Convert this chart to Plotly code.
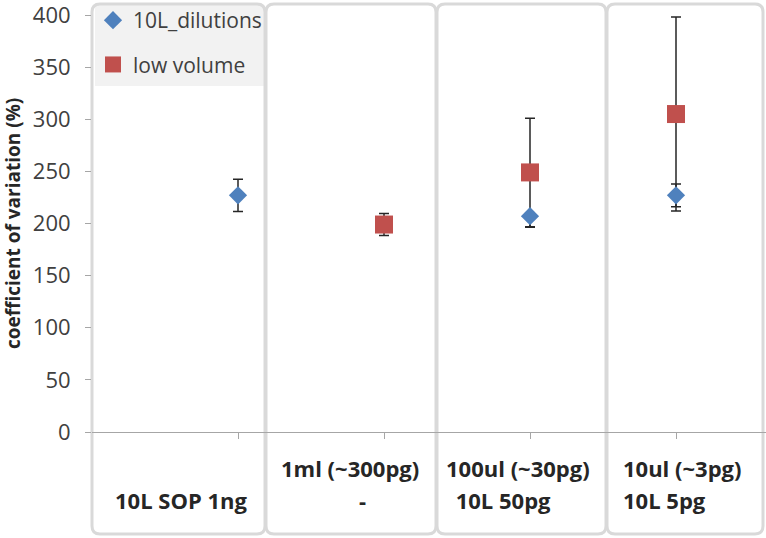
import plotly.graph_objects as go

# categories (x positions 0..3)
cat_pos = [0, 1, 2, 3]

# 10L_dilutions series
dil_x = [0, 2, 3]
dil_y = [227, 207, 227]
dil_err_plus = [15.5, 0, 11]
dil_err_minus = [15.5, 10.5, 11]

# low volume series
low_x = [1, 2, 3]
low_y = [199, 249, 305]
low_err = [10.5, 52, 93]

label_line1 = ["", "1ml (~300pg)", "100ul (~30pg)", "10ul (~3pg)"]
label_line2 = ["10L SOP 1ng", "-", " 10L 50pg", "10L 5pg"]

W, H = 766, 538
L, R, T, B = 92, 0, 15, 106
PW, PH = W - L - R, H - T - B


def px2x(p):
    return (p - L) / PW


def px2y(p):
    return (H - B - p) / PH


def rounded(x0, y0, x1, y1, r):
    X0, X1 = px2x(x0), px2x(x1)
    Y0, Y1 = px2y(y0), px2y(y1)
    rx, ry = r / PW, r / PH
    return (f"M {X0+rx},{Y0} L {X1-rx},{Y0} Q {X1},{Y0} {X1},{Y0-ry} "
            f"L {X1},{Y1+ry} Q {X1},{Y1} {X1-rx},{Y1} L {X0+rx},{Y1} "
            f"Q {X0},{Y1} {X0},{Y1+ry} L {X0},{Y0-ry} Q {X0},{Y0} {X0+rx},{Y0} Z")


fig = go.Figure()

fig.add_trace(go.Scatter(
    x=low_x, y=low_y, mode='markers', name='low volume', legendgroup='b', legendrank=2,
    marker=dict(symbol='square', size=18, color='#c0504d'),
    error_y=dict(type='data', array=low_err, color='#262626', thickness=1.5, width=5),
))
fig.add_trace(go.Scatter(
    x=dil_x, y=dil_y, mode='markers', name='10L_dilutions', legendgroup='a', legendrank=1,
    marker=dict(symbol='diamond', size=14, color='#4f81bd'),
    error_y=dict(type='data', array=dil_err_plus, arrayminus=dil_err_minus,
                 color='#262626', thickness=1.5, width=5),
))

shapes = [dict(type='rect', xref='paper', yref='paper', x0=px2x(95), x1=px2x(264),
               y0=px2y(86), y1=px2y(5), fillcolor='#f2f2f2', line=dict(width=0), layer='below')]
for a, b in [(92, 265), (266, 436), (437, 606), (607, 763)]:
    shapes.append(dict(type='path', xref='paper', yref='paper', path=rounded(a, 4, b, 534, 8),
                       line=dict(color='#d9d9d9', width=3), layer='below'))

annotations = [dict(text='coefficient of variation (%)', textangle=-90, xref='paper', yref='paper',
                    x=px2x(13), y=px2y(224), xanchor='center', yanchor='middle', showarrow=False,
                    font=dict(size=19, color='#262626', family='Open Sans', weight='bold'))]
lab_font = dict(size=22, color='#262626', family='Open Sans', weight='bold')
line1_x = [None, (350, 'center'), (444, 'left'), (621, 'left')]
line2_x = [(181, 'center'), (362, 'center'), (448, 'left'), (621, 'left')]
for i in cat_pos:
    if label_line1[i]:
        px, anc = line1_x[i]
        annotations.append(dict(text=label_line1[i], xref='paper', yref='paper', x=px2x(px), y=px2y(468),
                                xanchor=anc, yanchor='middle', showarrow=False, font=lab_font))
    px, anc = line2_x[i]
    annotations.append(dict(text=label_line2[i], xref='paper', yref='paper', x=px2x(px), y=px2y(500),
                            xanchor=anc, yanchor='middle', showarrow=False, font=lab_font))

fig.update_layout(
    width=W, height=H, margin=dict(l=L, r=R, t=T, b=B),
    paper_bgcolor='white', plot_bgcolor='white',
    font=dict(family='Open Sans', color='#404040'),
    shapes=shapes, annotations=annotations,
    legend=dict(x=px2x(93), y=px2y(0), xanchor='left', yanchor='top', bgcolor='rgba(0,0,0,0)',
                traceorder='grouped', tracegroupgap=14, itemwidth=30,
                font=dict(size=21, color='#404040')),
    xaxis=dict(range=[-1, -1 + PW / 146], tickvals=cat_pos, showticklabels=False, ticks='outside',
               ticklen=6, tickcolor='#a6a6a6', showline=True, linecolor='#a6a6a6', linewidth=1,
               showgrid=False, zeroline=False, fixedrange=True),
    yaxis=dict(range=[0, 400], tickvals=[0, 50, 100, 150, 200, 250, 300, 350, 400], ticks='outside',
               ticklen=6, tickcolor='#a6a6a6', showgrid=False, zeroline=False, showline=False,
               tickfont=dict(size=22, color='#404040'), ticklabelstandoff=10,
               ticklabeloverflow='allow'),
)

fig.write_html("out.html", config={'displayModeBar': False},
               post_script="document.body.style.margin='0';")
